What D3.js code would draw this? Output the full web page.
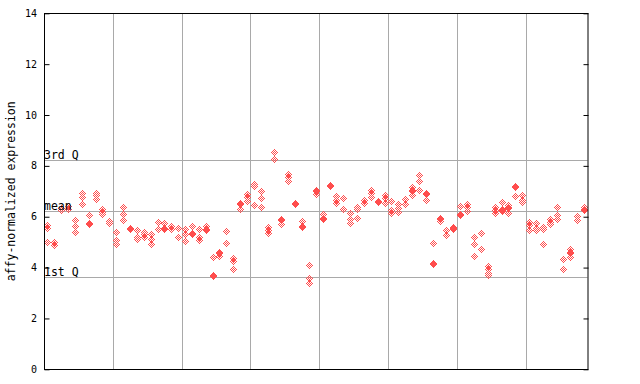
<!DOCTYPE html>
<html><head><meta charset="utf-8">
<script src="https://cdn.jsdelivr.net/npm/d3@7"></script>
<style>body{margin:0;background:#fff}svg{display:block}</style>
</head><body>
<script>
// ---- data ----
const sampleIds = d3.range(79);
const sampleValues = [
 [5.68,5.55,5.0],[5.0,4.88],[6.33,6.25],[6.42,6.3],[5.88,5.63,5.39],
 [6.95,6.78,6.51],[6.05,5.77,5.7],[6.95,6.87,6.70],[6.30,6.20,6.11],[5.85,5.77],
 [5.39,5.09,4.93],[6.38,6.11,5.88],[5.55,5.50],[5.48,5.19,5.11],[5.39,5.31,5.22],
 [5.34,5.11,4.93],[5.80,5.53],[5.75,5.57,5.53],[5.64,5.53],[5.57,5.22],
 [5.53,5.31,5.05],[5.63,5.37,5.34],[5.51,5.22,5.09],[5.64,5.51,5.47],[4.43,3.70,3.66],
 [4.61,4.57,4.46],[5.44,4.96],[4.38,4.27,3.93],[6.53,6.49,6.30],[6.90,6.77,6.60],
 [7.30,7.19,6.45],[7.03,6.72,6.38],[5.61,5.48,5.35],[8.53,8.27],[5.92,5.88,5.71],
 [7.67,7.58,7.39],[6.53,6.49],[5.85,5.63,5.59],[4.09,3.59,3.41],[7.04,7.00,6.89],
 [6.11,5.94,5.90],[7.24,7.20],[6.82,6.64,6.53],[6.74,6.32],[6.14,5.90,5.75],
 [6.38,6.30,5.94],[6.64,6.53],[7.06,6.93,6.77],[6.62,6.58],[6.85,6.74,6.53],
 [6.62,6.27,6.16],[6.51,6.35,6.19],[6.69,6.51],[7.16,7.06,7.03,6.85],[7.63,7.39,7.05],
 [6.95,6.91,6.65],[4.96,4.19,4.15],[5.95,5.91,5.82],[5.48,5.27],[5.61,5.57,5.51],
 [6.42,6.11,6.07],[6.51,6.38,6.24],[5.19,4.92,4.46],[5.35,4.72],[4.06,3.93,3.80,3.69],
 [6.38,6.27,6.16],[6.58,6.32,6.28,6.24],[6.47,6.40,6.36,6.16],[7.21,7.17,6.81],[6.85,6.66,6.58],
 [5.80,5.69,5.48],[5.75,5.56,5.48],[5.61,5.51,4.92],[5.92,5.81,5.72],[6.38,6.06,5.90],
 [4.32,3.93],[4.72,4.63,4.59,4.40],[6.03,5.88],[6.37,6.29,6.25]
];
const yTicks = [0,2,4,6,8,10,12,14];
const gridEvery = 10;
const refLabels = ["3rd Q","mean","1st Q"];
const refValues = [8.23,6.21,3.62];
const yTitle = "affy-normalized expression";

// ---- layout ----
const W=640,H=384, L=44, R=587.5, T=13.3, B=369.3;
const svg = d3.select("body").append("svg").attr("width",W).attr("height",H);
const x = d3.scaleLinear().domain([-0.5, sampleIds.length-0.5]).range([L,R]);
const y = d3.scaleLinear().domain([0,14]).range([B,T]);
const grid="#a9a9a9", red="#ff4d4d";
const font="'DejaVu Sans Mono', monospace";

// vertical grid
const gridIdx = sampleIds.filter(i=>i>0 && i%gridEvery===0 && i<sampleIds.length);
svg.append("g").selectAll("line").data(gridIdx).join("line")
  .attr("x1",d=>Math.round(x(d-0.5))+0.5).attr("x2",d=>Math.round(x(d-0.5))+0.5)
  .attr("y1",T).attr("y2",B).attr("stroke",grid).attr("stroke-width",1);
// reference lines
svg.append("g").selectAll("line").data(refValues).join("line")
  .attr("x1",L).attr("x2",R).attr("y1",d=>Math.round(y(d))+0.5).attr("y2",d=>Math.round(y(d))+0.5)
  .attr("stroke",grid).attr("stroke-width",1);

// markers (dithered diamond)
const offs=[[0,-1],[1,0],[0,1],[-1,0],[0,-3],[1,-2],[2,-1],[3,0],[2,1],[1,2],[0,3],[-1,2],[-2,1],[-3,0],[-2,-1],[-1,-2]];
const shape = offs.map(([dx,dy])=>`M${dx},${dy}h1v1h-1z`).join("");
const pts=[];
sampleValues.forEach((vals,i)=>vals.forEach(v=>pts.push({i,v})));
svg.append("g").attr("shape-rendering","crispEdges").selectAll("path").data(pts).join("path")
  .attr("d",shape).attr("fill",red)
  .attr("transform",d=>`translate(${Math.round(x(d.i))},${Math.round(y(d.v))})`);

// frame
svg.append("rect").attr("x",L+0.5).attr("y",Math.round(T)+0.5).attr("width",Math.round(R-L)-0.5)
  .attr("height",Math.round(B-T)).attr("fill","none").attr("stroke","#000").attr("stroke-width",1);

// y axes (ticks inward)
const left = svg.append("g").attr("transform",`translate(${L+0.5},0)`)
  .call(d3.axisRight(y).tickValues(yTicks).tickSize(5).tickFormat(""));
left.select(".domain").remove();
const right = svg.append("g").attr("transform",`translate(${Math.round(R)+0.5},0)`)
  .call(d3.axisLeft(y).tickValues(yTicks).tickSize(5).tickFormat(""));
right.select(".domain").remove();
svg.selectAll(".tick line").attr("stroke","#000");
svg.append("g").selectAll("text").data(yTicks).join("text")
  .attr("x",37).attr("y",d=>y(d)).attr("dy","0.35em").attr("text-anchor","end")
  .attr("font-family",font).attr("font-size",10).text(d=>d);

// reference labels
svg.append("g").selectAll("text").data(refValues).join("text")
  .attr("x",L).attr("y",d=>Math.round(y(d))-1)
  .attr("font-family",font).attr("font-size",11.5).attr("fill","#000")
  .text((d,k)=>refLabels[k]);

// y title
svg.append("text").attr("transform",`translate(15,${(T+B)/2}) rotate(-90)`)
  .attr("text-anchor","middle").attr("font-family",font).attr("font-size",11.5).text(yTitle);
</script>
</body></html>
